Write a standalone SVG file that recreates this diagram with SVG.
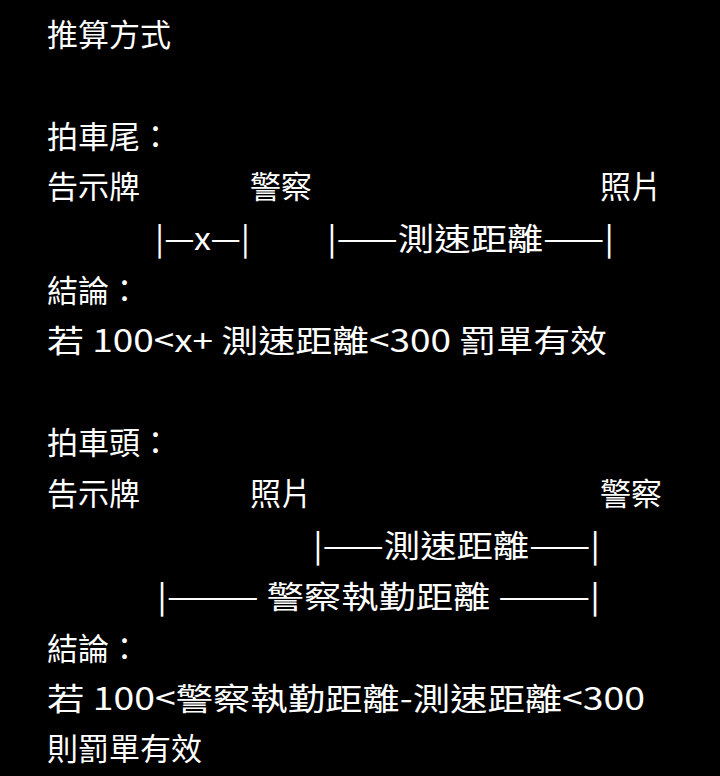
<svg xmlns="http://www.w3.org/2000/svg" width="720" height="776" viewBox="0 0 720 776">
<style>
text{fill:#fff;font-family:"Noto Sans CJK TC","Noto Sans",sans-serif;font-size:31px}
</style>
<rect width="720" height="776" fill="#000"/>
<g id="content">
<text x="47" y="46">推算方式</text>
<text x="47" y="148">拍車尾：</text>
<text x="47" y="198">告示牌</text>
<text x="250" y="198">警察</text>
<text x="600" y="198">照片</text>
<text x="155" y="250" textLength="95" lengthAdjust="spacingAndGlyphs">|—x—|</text>
<text x="327" y="250" textLength="287" lengthAdjust="spacingAndGlyphs">|——測速距離——|</text>
<text x="47" y="302">結論：</text>
<text x="47" y="352" textLength="560" lengthAdjust="spacingAndGlyphs">若 100&lt;x+ 測速距離&lt;300 罰單有效</text>
<text x="47" y="454">拍車頭：</text>
<text x="47" y="505">告示牌</text>
<text x="250" y="505">照片</text>
<text x="600" y="505">警察</text>
<text x="313" y="557" textLength="287" lengthAdjust="spacingAndGlyphs">|——測速距離——|</text>
<text x="157" y="608" textLength="443" lengthAdjust="spacingAndGlyphs">|——— 警察執勤距離 ———|</text>
<text x="47" y="660">結論：</text>
<text x="47" y="710" textLength="598" lengthAdjust="spacingAndGlyphs">若 100&lt;警察執勤距離-測速距離&lt;300</text>
<text x="47" y="760">則罰單有效</text>
</g>
</svg>
